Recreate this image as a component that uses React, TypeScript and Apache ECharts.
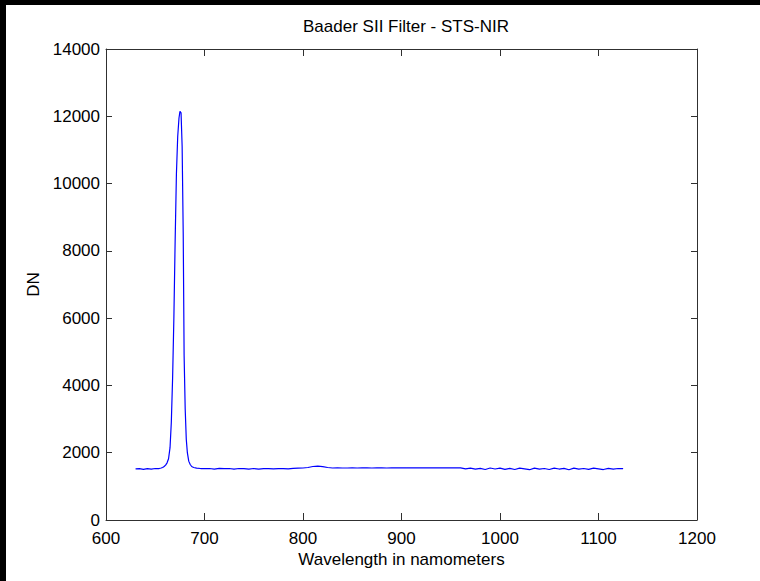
import React, { useEffect, useRef } from "react";
import * as echarts from "echarts";

const titleText = "Baader SII Filter - STS-NIR";
const xName = "Wavelength in namometers";
const yName = "DN";

const wavelengths: number[] = [
  630, 634, 638, 642, 646, 650, 654, 656,
  657.5, 659, 660.5, 662, 663.5, 665, 666.3, 667.6, 668.9, 670.2, 671.5, 672.8, 674.1, 675.1, 676.2, 677.3, 678.4, 679.3, 680.4, 681.5, 682.6, 684, 685.5, 687, 689, 692, 696,
  700, 705, 710, 715, 720, 725, 730, 735, 740, 745, 750, 755, 760, 765, 770, 775, 780, 785, 790, 795,
  800, 805, 810, 815, 820, 825, 830, 835, 840, 845, 850, 855, 860, 865, 870, 875, 880, 885, 890, 895,
  900, 905, 910, 915, 920, 925, 930, 935, 940, 945, 950, 955, 960, 965, 970, 975, 980, 985, 990, 995,
  1000, 1005, 1010, 1015, 1020, 1025, 1030, 1035, 1040, 1045, 1050, 1055, 1060, 1065, 1070, 1075, 1080, 1085, 1090, 1095,
  1100, 1105, 1110, 1115, 1120, 1125,
];

const dnValues: number[] = [
  1520, 1525, 1505, 1525, 1515, 1530, 1530, 1545,
  1560, 1590, 1630, 1700, 1820, 2150, 2900, 4200, 6000, 8300, 10300, 11400, 11950, 12150, 12100, 11100, 8500, 4900, 3300, 2400, 2000, 1750, 1650, 1590, 1560, 1540, 1530,
  1525, 1530, 1515, 1535, 1525, 1530, 1510, 1530, 1525, 1515, 1530, 1515, 1525, 1530, 1520, 1525, 1530, 1520, 1535, 1540,
  1545, 1560, 1590, 1600, 1585, 1560, 1545, 1550, 1545, 1545, 1548, 1545, 1550, 1548, 1545, 1550, 1548, 1545, 1550, 1548,
  1552, 1550, 1548, 1550, 1552, 1548, 1550, 1548, 1550, 1548, 1550, 1548, 1550, 1520, 1540, 1510, 1535, 1500, 1545, 1515,
  1540, 1505, 1535, 1500, 1540, 1520, 1495, 1540, 1510, 1530, 1500, 1540, 1515, 1535, 1495, 1540, 1510, 1530, 1505, 1540,
  1520, 1500, 1535, 1510, 1530, 1525,
];

const FONT = "'Liberation Sans', Arial, sans-serif";
const AXIS_COLOR = "#303030";

export default function App() {
  const ref = useRef<HTMLDivElement>(null);
  useEffect(() => {
    if (!ref.current) return;
    const chart = echarts.init(ref.current, undefined, { renderer: "svg" });
    const data = wavelengths.map((w, i) => [w, dnValues[i]]);
    const axisLine = { show: true, onZero: false, lineStyle: { color: AXIS_COLOR, width: 1 } };
    const tick = (len: number) => ({ show: true, inside: true, length: len, lineStyle: { color: AXIS_COLOR } });
    const plain = (v: number) => String(v);
    chart.setOption({
      animation: false,
      backgroundColor: "#ffffff",
      textStyle: { fontFamily: FONT },
      title: {
        text: titleText,
        left: 395,
        top: 8,
        textAlign: "center",
        textStyle: { fontFamily: FONT, fontSize: 17, fontWeight: "normal", color: "#000" },
      },
      grid: { left: 100, top: 44, width: 591, height: 471, containLabel: false },
      xAxis: [
        {
          type: "value",
          position: "bottom",
          min: 600,
          max: 1200,
          interval: 100,
          axisLine,
          axisTick: tick(7),
          axisLabel: { show: true, color: "#000", fontSize: 17, lineHeight: 14, fontFamily: FONT, margin: 11, formatter: plain },
          splitLine: { show: false },
          name: xName,
          nameLocation: "middle",
          nameGap: 31,
          nameTextStyle: { color: "#000", fontSize: 17, fontFamily: FONT },
        },
        {
          type: "value",
          position: "top",
          min: 600,
          max: 1200,
          interval: 100,
          axisLine,
          axisTick: tick(7),
          axisLabel: { show: false },
          splitLine: { show: false },
        },
      ],
      yAxis: [
        {
          type: "value",
          position: "left",
          min: 0,
          max: 14000,
          interval: 2000,
          axisLine,
          axisTick: tick(6),
          axisLabel: { show: true, color: "#000", fontSize: 17, lineHeight: 13, fontFamily: FONT, margin: 6, formatter: plain },
          splitLine: { show: false },
          name: yName,
          nameLocation: "middle",
          nameRotate: 90,
          nameGap: 60,
          nameTextStyle: { color: "#000", fontSize: 17, fontFamily: FONT },
        },
        {
          type: "value",
          position: "right",
          min: 0,
          max: 14000,
          interval: 2000,
          axisLine,
          axisTick: tick(6),
          axisLabel: { show: false },
          splitLine: { show: false },
        },
      ],
      series: [
        {
          type: "line",
          data,
          xAxisIndex: 0,
          yAxisIndex: 0,
          showSymbol: false,
          symbol: "none",
          lineStyle: { color: "#0000ff", width: 1.2 },
          itemStyle: { color: "#0000ff" },
        },
      ],
    });
    return () => chart.dispose();
  }, []);
  return (
    <div style={{ position: "fixed", left: 0, top: 0, width: 760, height: 581, background: "#000" }}>
      <div
        ref={ref}
        style={{ position: "absolute", left: 6, top: 5, width: 754, height: 576, background: "#fff" }}
      />
    </div>
  );
}
